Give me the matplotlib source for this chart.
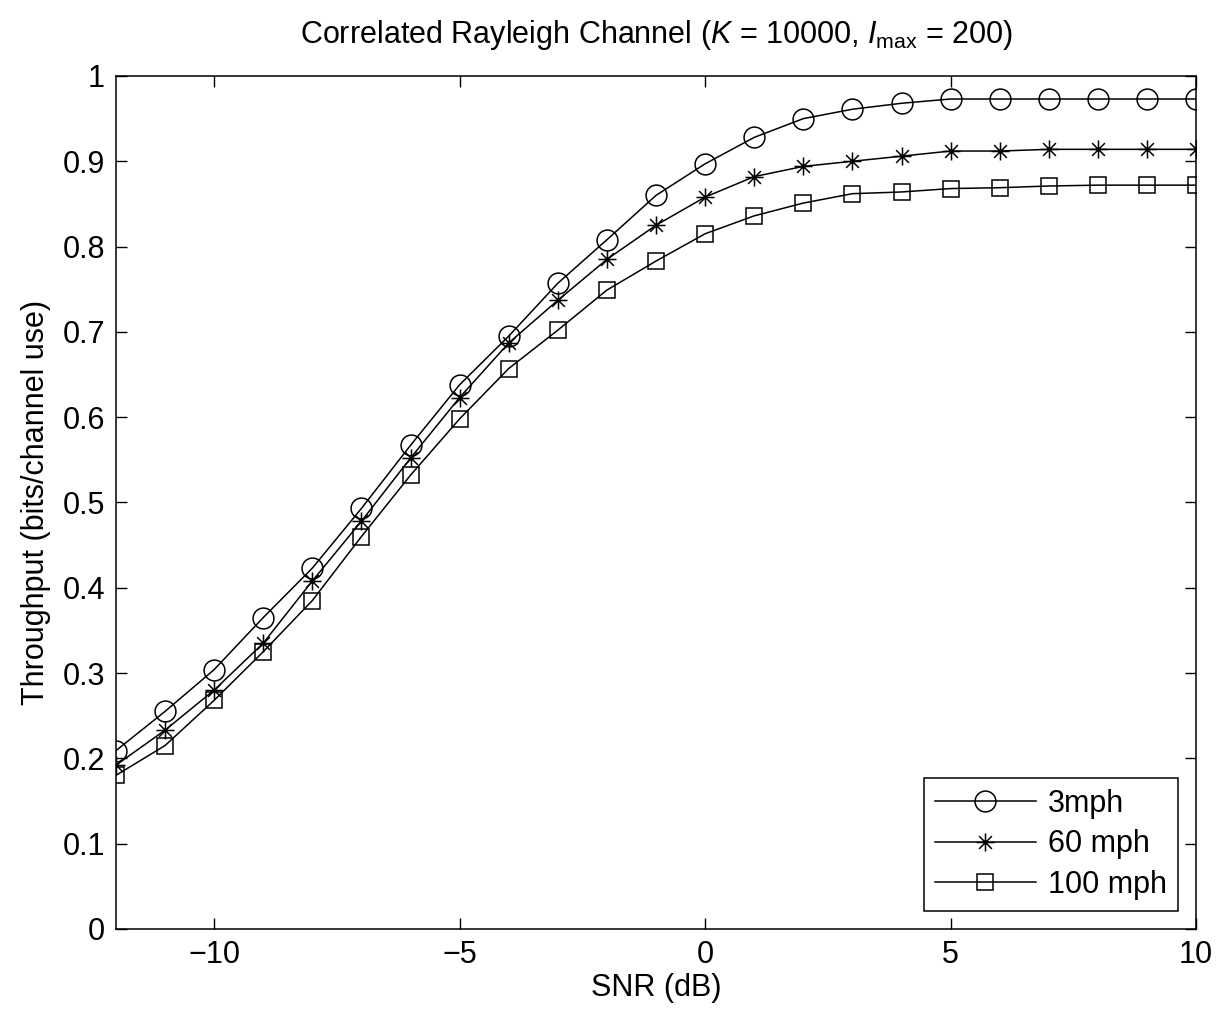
import matplotlib
matplotlib.use("Agg")
import matplotlib.pyplot as plt
from matplotlib.path import Path

plt.rcParams["font.family"] = ["Liberation Sans", "DejaVu Sans"]
plt.rcParams["mathtext.fontset"] = "custom"
plt.rcParams["mathtext.rm"] = "Liberation Sans"
plt.rcParams["mathtext.it"] = "Liberation Sans:italic"

# SNR (dB)
snr = list(range(-12, 11))

# throughput values
tp_3mph = [0.209, 0.255, 0.304, 0.365, 0.423, 0.493, 0.567, 0.638, 0.695, 0.757,
           0.808, 0.860, 0.897, 0.928, 0.950, 0.961, 0.968, 0.973, 0.973, 0.973,
           0.973, 0.973, 0.973]
tp_60mph = [0.192, 0.233, 0.280, 0.335, 0.408, 0.478, 0.552, 0.623, 0.687, 0.737,
            0.785, 0.825, 0.858, 0.882, 0.894, 0.900, 0.906, 0.912, 0.912, 0.914,
            0.914, 0.914, 0.914]
tp_100mph = [0.180, 0.215, 0.268, 0.325, 0.385, 0.460, 0.532, 0.598, 0.657, 0.702,
             0.749, 0.783, 0.815, 0.836, 0.851, 0.862, 0.864, 0.868, 0.869, 0.871,
             0.872, 0.872, 0.872]

FS = 22

# matlab-style asterisk (4 strokes)
d = 0.7071
verts = [(-1, 0), (1, 0), (0, -1), (0, 1), (-d, -d), (d, d), (-d, d), (d, -d)]
codes = [Path.MOVETO, Path.LINETO] * 4
asterisk = Path(verts, codes)

fig = plt.figure(figsize=(12.23, 10.13), dpi=100)
ax = fig.add_axes([0.0948, 0.083, 0.8832, 0.842])

kw = dict(color="black", lw=1.1, mfc="none", mec="black", mew=1.1)
ax.plot(snr, tp_3mph, marker="o", ms=15, label="3mph", **kw)
ax.plot(snr, tp_60mph, marker=asterisk, ms=13, label="60 mph", **kw)
ax.plot(snr, tp_100mph, marker="s", ms=11.5, label="100 mph", **kw)

ax.set_xlim(-12, 10)
ax.set_ylim(0, 1)
ax.set_xticks([-10, -5, 0, 5, 10])
ax.set_yticks([i / 10 for i in range(11)])
ax.set_yticklabels(["0"] + [f"{i/10:.1f}" for i in range(1, 10)] + ["1"])
ax.tick_params(direction="in", length=8, width=1, top=True, right=True,
               labelsize=FS, pad=8)
for s in ax.spines.values():
    s.set_linewidth(1.1)

ax.set_xlabel("SNR (dB)", fontsize=FS, labelpad=2)
ax.set_ylabel("Throughput (bits/channel use)", fontsize=FS, labelpad=8)
ax.set_title(r"Correlated Rayleigh Channel ($K$ = 10000, $I_{\mathrm{max}}$ = 200)",
             fontsize=FS, pad=24)

leg = ax.legend(loc="lower right", fontsize=FS, handlelength=3.3, fancybox=False,
                edgecolor="black", framealpha=1, borderaxespad=0.6,
                labelspacing=0.35, handletextpad=0.4, borderpad=0.35)
leg.get_frame().set_linewidth(1.1)

fig.savefig("out.png", dpi=100)
